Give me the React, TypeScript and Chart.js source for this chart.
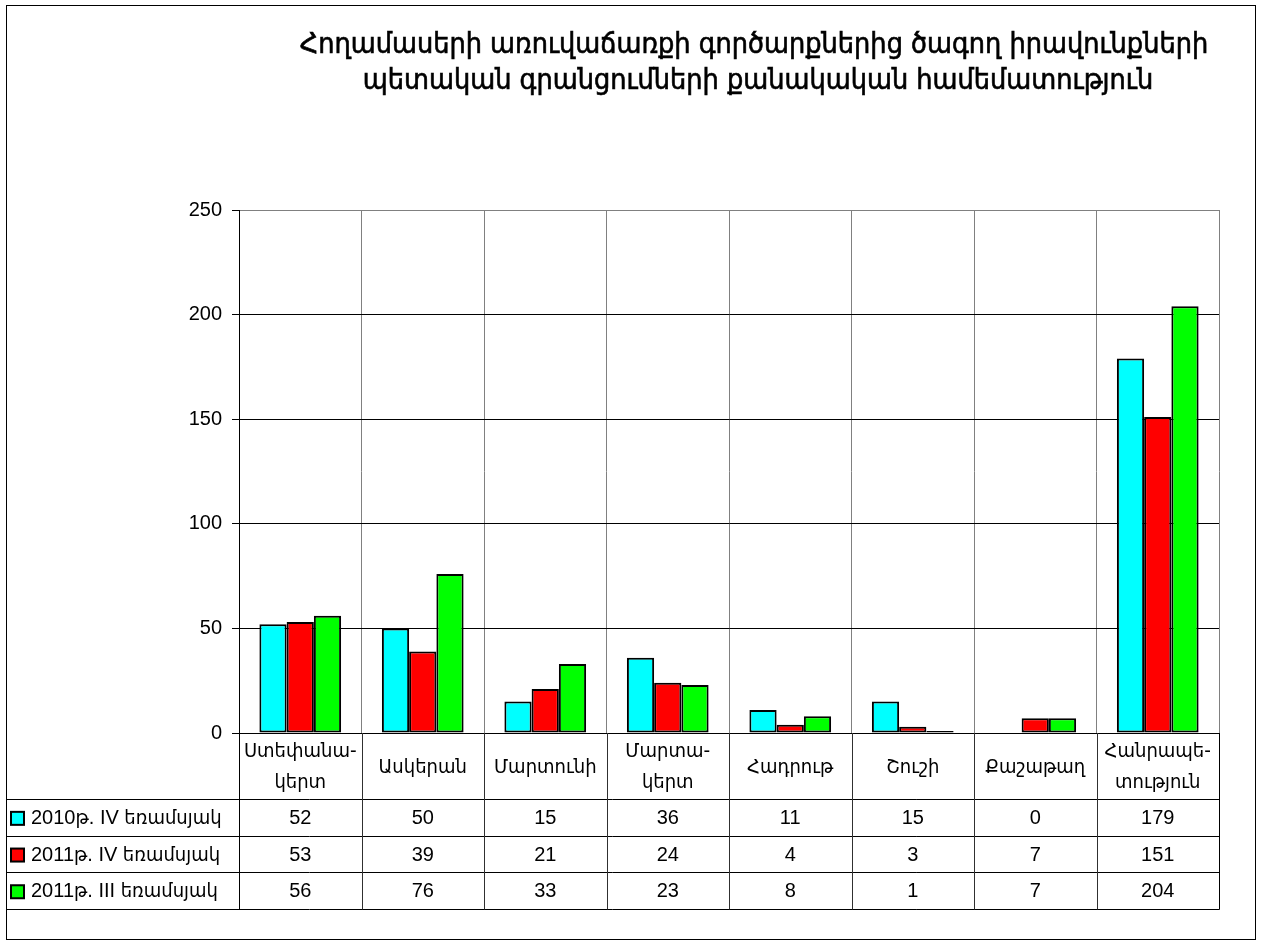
import React, { useEffect, useRef } from "react";
import { Chart, registerables } from "chart.js";

Chart.register(...registerables);

const titleLines = [
  "Հողամասերի առուվաճառքի գործարքներից ծագող իրավունքների",
  "պետական գրանցումների քանակական համեմատություն",
];

const categories: string[][] = [
  ["Ստեփանա-", "կերտ"],
  ["Ասկերան"],
  ["Մարտունի"],
  ["Մարտա-", "կերտ"],
  ["Հադրութ"],
  ["Շուշի"],
  ["Քաշաթաղ"],
  ["Հանրապե-", "տություն"],
];

const seriesNames = ["2010թ. IV եռամսյակ", "2011թ. IV եռամսյակ", "2011թ. III եռամսյակ"];
const series2010Q4 = [52, 50, 15, 36, 11, 15, 0, 179];
const series2011Q4 = [53, 39, 21, 24, 4, 3, 7, 151];
const series2011Q3 = [56, 76, 33, 23, 8, 1, 7, 204];
const seriesColors = ["#00FFFF", "#FF0000", "#00FF00"];
const yTicks = [0, 50, 100, 150, 200, 250];

const FONT = '"Liberation Sans", Arial, "DejaVu Sans Condensed", sans-serif';
const TITLE_FONT = '"DejaVu Sans Condensed", "Liberation Sans", sans-serif';

const W = 1261;
const H = 945;

const tablePlugin = {
  id: "tablePlugin",
  beforeDraw(chart: any) {
    const ctx = chart.ctx;
    ctx.save();
    ctx.fillStyle = "#fff";
    ctx.fillRect(0, 0, W, H);
    ctx.restore();
  },
  afterDraw(chart: any) {
    const ctx = chart.ctx;
    const x = chart.scales.x;
    const area = chart.chartArea;
    const n = categories.length;
    const cw = (x.right - x.left) / n;
    const allSeries = [series2010Q4, series2011Q4, series2011Q3];
    const headerBottom = area.bottom + 66;
    const rowH = 36.7;
    const rowTops = [headerBottom, headerBottom + rowH, headerBottom + 2 * rowH];
    const tableBottom = headerBottom + 3 * rowH;
    const outerLeft = 6;

    ctx.save();
    // outer border
    ctx.strokeStyle = "#000";
    ctx.lineWidth = 1;
    ctx.strokeRect(6.5, 5.5, 1249, 934);

    // title
    ctx.fillStyle = "#000";
    ctx.strokeStyle = "#000";
    ctx.lineWidth = 0.6;
    ctx.textAlign = "center";
    ctx.textBaseline = "alphabetic";
    ctx.font = `28.5px ${TITLE_FONT}`;
    ctx.fillText(titleLines[0], 754, 53);
    ctx.strokeText(titleLines[0], 754, 53);
    ctx.fillText(titleLines[1], 758, 89);
    ctx.strokeText(titleLines[1], 758, 89);

    // table lines
    ctx.strokeStyle = "#000";
    ctx.lineWidth = 1;
    const hl = (yy: number) => {
      const y = Math.round(yy) + 0.5;
      ctx.beginPath();
      ctx.moveTo(outerLeft, y);
      ctx.lineTo(Math.round(x.right) + 0.5, y);
      ctx.stroke();
    };
    rowTops.forEach(hl);
    hl(tableBottom);
    for (let i = 0; i <= n; i++) {
      const xx = Math.round(x.left + i * cw) + 0.5;
      ctx.strokeStyle = i === 0 || i === n ? "#000" : "#303030";
      ctx.beginPath();
      ctx.moveTo(xx, area.bottom);
      ctx.lineTo(xx, Math.round(tableBottom) + 0.5);
      ctx.stroke();
    }

    // header labels
    ctx.fillStyle = "#000";
    ctx.font = `20px ${FONT}`;
    ctx.textAlign = "center";
    ctx.textBaseline = "middle";
    const headerMid = (area.bottom + headerBottom) / 2;
    categories.forEach((lines, i) => {
      const cx = x.getPixelForValue(i);
      const lh = 31;
      const start = headerMid - ((lines.length - 1) * lh) / 2;
      lines.forEach((t, j) => ctx.fillText(t, cx, start + j * lh + 1));
    });

    // rows
    allSeries.forEach((vals, r) => {
      const mid = rowTops[r] + rowH / 2 + 1;
      // swatch
      ctx.fillStyle = seriesColors[r];
      ctx.fillRect(11, mid - 6.5, 13, 13);
      ctx.strokeStyle = "#000";
      ctx.lineWidth = 2;
      ctx.strokeRect(11, mid - 6.5, 13, 13);
      ctx.lineWidth = 1;
      ctx.fillStyle = "#000";
      ctx.textAlign = "left";
      ctx.fillText(seriesNames[r], 31, mid);
      ctx.textAlign = "center";
      vals.forEach((v, i) => {
        ctx.fillText(String(v), x.getPixelForValue(i), mid);
      });
    });
    ctx.restore();
  },
};

export default function App() {
  const ref = useRef<HTMLCanvasElement | null>(null);
  useEffect(() => {
    document.body.style.margin = "0";
    document.body.style.overflow = "hidden";
    if (!ref.current) return;
    const chart = new Chart(ref.current, {
      type: "bar",
      data: {
        labels: categories.map((c) => c.join(" ")),
        datasets: [series2010Q4, series2011Q4, series2011Q3].map((d, i) => ({
          label: seriesNames[i],
          data: d,
          backgroundColor: seriesColors[i],
          borderColor: "#000",
          borderWidth: (c: any) => (c.raw === 0 ? 0 : 2),
          borderSkipped: false,
          categoryPercentage: 0.667,
          barPercentage: 1,
        })),
      },
      options: {
        responsive: false,
        animation: false,
        devicePixelRatio: 1,
        layout: { padding: { top: 210, right: 42, bottom: 0, left: 0 } },
        plugins: {
          legend: { display: false },
          title: { display: false },
          tooltip: { enabled: false },
        },
        scales: {
          x: {
            grid: { offset: true, color: "#808080", drawTicks: false, lineWidth: 1 },
            border: { display: true, color: "#000", width: 1 },
            ticks: { display: false },
            afterFit: (s: any) => {
              s.height = 212;
            },
          },
          y: {
            min: 0,
            max: 250,
            afterBuildTicks: (s: any) => {
              s.ticks = yTicks.map((v) => ({ value: v }));
            },
            grid: {
              color: (c: any) => (c.tick && c.tick.value === 250 ? "#808080" : "#000"),
              tickColor: "#000",
              tickLength: 7,
              lineWidth: 1,
            },
            border: { display: true, color: "#000", width: 1 },
            ticks: {
              color: "#000",
              padding: 10,
              font: { family: FONT, size: 20 },
            },
            afterFit: (s: any) => {
              s.width = 239;
            },
          },
        },
      },
      plugins: [tablePlugin],
    } as any);
    return () => chart.destroy();
  }, []);
  return (
    <div style={{ width: W, height: H }}>
      <canvas ref={ref} width={W} height={H} style={{ display: "block" }} />
    </div>
  );
}
